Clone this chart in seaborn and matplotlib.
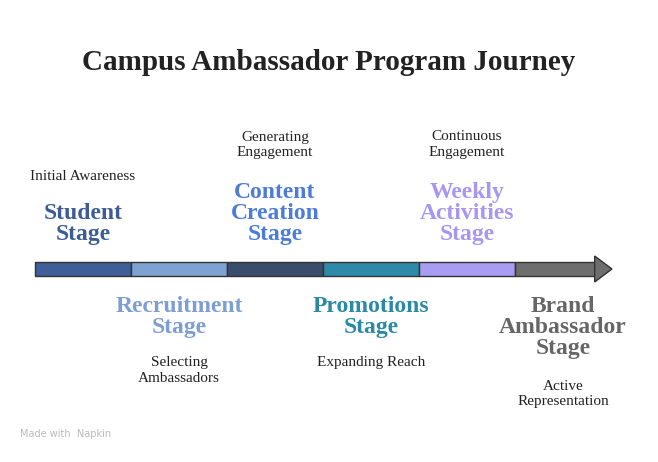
import matplotlib
matplotlib.use("Agg")
import matplotlib.pyplot as plt
import seaborn as sns
import pandas as pd

# stage data
stages = ["Student\nStage", "Recruitment\nStage", "Content\nCreation\nStage",
          "Promotions\nStage", "Weekly\nActivities\nStage", "Brand\nAmbassador\nStage"]
descriptions = ["Initial Awareness", "Selecting\nAmbassadors", "Generating\nEngagement",
                "Expanding Reach", "Continuous\nEngagement", "Active\nRepresentation"]
bar_colors = ["#3f5f98", "#7ea2d2", "#3b4d6c", "#2d8ba9", "#a99cf3", "#6e6e6e"]
text_colors = ["#3d5c96", "#7d9ed2", "#4a7cd8", "#2a8aa6", "#a797f2", "#666666"]
seg_widths = [1, 1, 1, 1, 1, 0.83]

df = pd.DataFrame({"stage": stages, "desc": descriptions,
                   "bar": bar_colors, "txt": text_colors, "w": seg_widths})
df["pos"] = range(len(df))

sns.set_theme(style="white")
plt.rcParams["font.family"] = ["Liberation Serif", "DejaVu Serif"]

fig = plt.figure(figsize=(6.58, 4.62), dpi=100)
ax = fig.add_axes([0, 0, 1, 1])
# one stage = 96 px; y in pixels from top
ax.set_xlim(-0.5 - 35 / 96, -0.5 - 35 / 96 + 658 / 96)
ax.set_ylim(462, 0)
ax.axis("off")

ax.barh(269, df["w"], left=df["pos"] - 0.5, height=14, color=df["bar"],
        edgecolor="#333333", linewidth=1)
ax.fill([5.33, 5.33, 5.51, 5.33], [256, 282, 269, 256], color="#6e6e6e",
        edgecolor="#333333", linewidth=1)

for _, r in df.iterrows():
    x = r["pos"]
    n = r["stage"].count("\n") + 1
    if x % 2 == 0:
        ax.text(x, 245, r["stage"], ha="center", va="bottom", fontsize=17,
                fontweight="bold", color=r["txt"], linespacing=1.0)
        ax.text(x, 245 - 24 * n - 14, r["desc"], ha="center", va="bottom",
                fontsize=11, color="#222222", linespacing=1.25)
    else:
        ax.text(x, 296, r["stage"], ha="center", va="top", fontsize=17,
                fontweight="bold", color=r["txt"], linespacing=1.0)
        ax.text(x, 296 + 24 * n + 12, r["desc"], ha="center", va="top",
                fontsize=11, color="#222222", linespacing=1.25)

fig.text(0.5, 1 - 63 / 462, "Campus Ambassador Program Journey", ha="center",
         va="center", fontsize=21, fontweight="bold", color="#222222")
fig.text(0.03, 0.055, "Made with  Napkin", fontsize=7, color="#bbbbbb",
         family="DejaVu Sans")

fig.savefig("out.png", dpi=100)
